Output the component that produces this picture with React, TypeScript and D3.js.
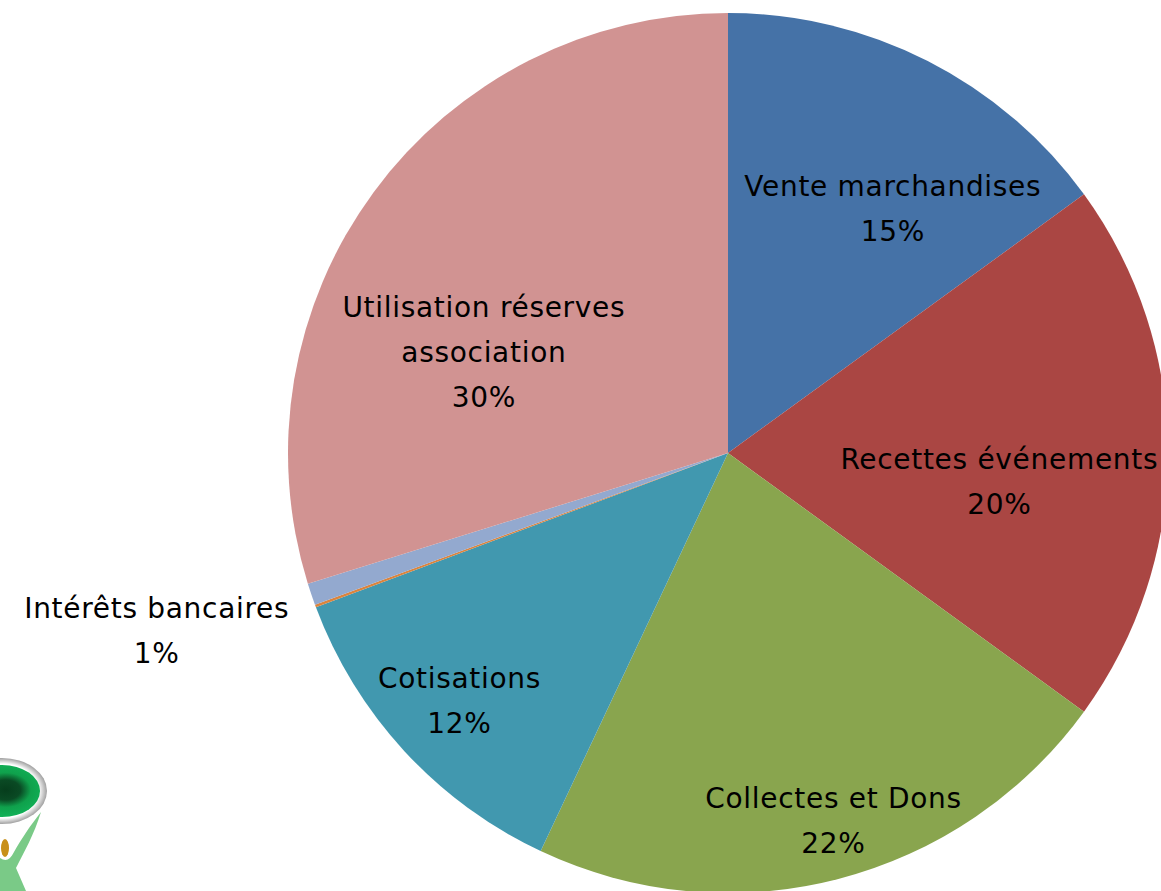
import React, { useRef, useEffect } from 'react';
import * as d3 from 'd3';

// slices, clockwise from 12 o'clock
const categories = [
  'Vente marchandises',
  'Recettes événements',
  'Collectes et Dons',
  'Cotisations',
  'Autres',
  'Intérêts bancaires',
  'Utilisation réserves association',
];
const values = [15, 20, 22, 12.3, 0.1, 0.8, 29.8];
const percentLabels = ['15%', '20%', '22%', '12%', '', '1%', '30%'];
// how each label is broken over lines (empty = no label)
const labelLines = [
  ['Vente marchandises'],
  ['Recettes événements'],
  ['Collectes et Dons'],
  ['Cotisations'],
  [],
  ['Intérêts bancaires'],
  ['Utilisation réserves', 'association'],
];
const colors = ['#4572A7', '#AA4643', '#89A54E', '#4198AF', '#DB843D', '#93A9CF', '#D19392'];

// label placement: angle nudge (deg) from slice middle, radius as fraction of R
const labelNudge = [7, 6, -1.6, 0, 0, 1.4, -14];
const labelRadius = [0.67, 0.62, 0.87, 0.83, 0, 1.36, 0.6];

const App = () => {
  const svgRef = useRef<SVGSVGElement>(null);

  useEffect(() => {
    const width = 1161;
    const height = 891;
    const cx = 728;
    const cy = 453;
    const R = 440;
    const lineH = 45;

    const svg = d3.select(svgRef.current)
      .attr('width', width)
      .attr('height', height);
    svg.selectAll('*').remove();

    const data = categories.map((c, i) => ({ name: c, value: values[i], i }));
    const pie = d3.pie<any>().value(d => d.value).sort(null);
    const arcs = pie(data);
    const arc = d3.arc<any>().innerRadius(0).outerRadius(R);

    const g = svg.append('g').attr('transform', `translate(${cx},${cy})`);

    g.selectAll('path')
      .data(arcs)
      .enter()
      .append('path')
      .attr('d', arc)
      .attr('fill', d => colors[d.data.i]);

    // labels
    arcs.forEach(a => {
      const i = a.data.i;
      if (!labelLines[i].length) return;
      const mid = (a.startAngle + a.endAngle) / 2 + (labelNudge[i] * Math.PI) / 180;
      const [x, y] = d3.pointRadial(mid, labelRadius[i] * R);
      const lines = [...labelLines[i], percentLabels[i]];
      const top = y - ((lines.length - 1) * lineH) / 2;
      const t = g.append('text')
        .attr('text-anchor', 'middle')
        .attr('font-family', "'Comic Sans MS', 'DejaVu Sans', sans-serif")
        .attr('font-size', 28)
        .attr('letter-spacing', 0.7)
        .attr('fill', '#000');
      lines.forEach((l, k) => {
        t.append('tspan')
          .attr('x', x)
          .attr('y', top + k * lineH)
          .attr('dy', '0.35em')
          .text(l);
      });
    });

    // logo in the bottom-left corner (simplified)
    const defs = svg.append('defs');
    const rg = defs.append('radialGradient').attr('id', 'logoGreen')
      .attr('cx', '55%').attr('cy', '48%').attr('r', '60%');
    rg.append('stop').attr('offset', '0%').attr('stop-color', '#063d1c');
    rg.append('stop').attr('offset', '32%').attr('stop-color', '#0a4a24');
    rg.append('stop').attr('offset', '55%').attr('stop-color', '#0fa14c');
    rg.append('stop').attr('offset', '100%').attr('stop-color', '#12b85c');
    const ring = defs.append('radialGradient').attr('id', 'logoRing');
    ring.append('stop').attr('offset', '82%').attr('stop-color', '#ffffff');
    ring.append('stop').attr('offset', '100%').attr('stop-color', '#a0a0a0');

    const logo = svg.append('g');
    logo.append('path')
      .attr('d', 'M41,812 C34,835 24,852 16,868 L26,891 L0,891 L0,858 C6,862 10,860 14,852 C22,838 30,826 41,812 Z')
      .attr('fill', '#6cc47a')
      .attr('opacity', 0.9);
    logo.append('ellipse').attr('cx', 2).attr('cy', 791).attr('rx', 45).attr('ry', 33).attr('fill', 'url(#logoRing)');
    logo.append('ellipse').attr('cx', 2).attr('cy', 791).attr('rx', 38).attr('ry', 26).attr('fill', 'url(#logoGreen)');
    logo.append('ellipse').attr('cx', 5).attr('cy', 848).attr('rx', 4).attr('ry', 9).attr('fill', '#c8901a');
  }, []);

  return (
    <svg
      ref={svgRef}
      style={{ position: 'absolute', left: 0, top: 0, background: '#fff' }}
    />
  );
};

export default App;
